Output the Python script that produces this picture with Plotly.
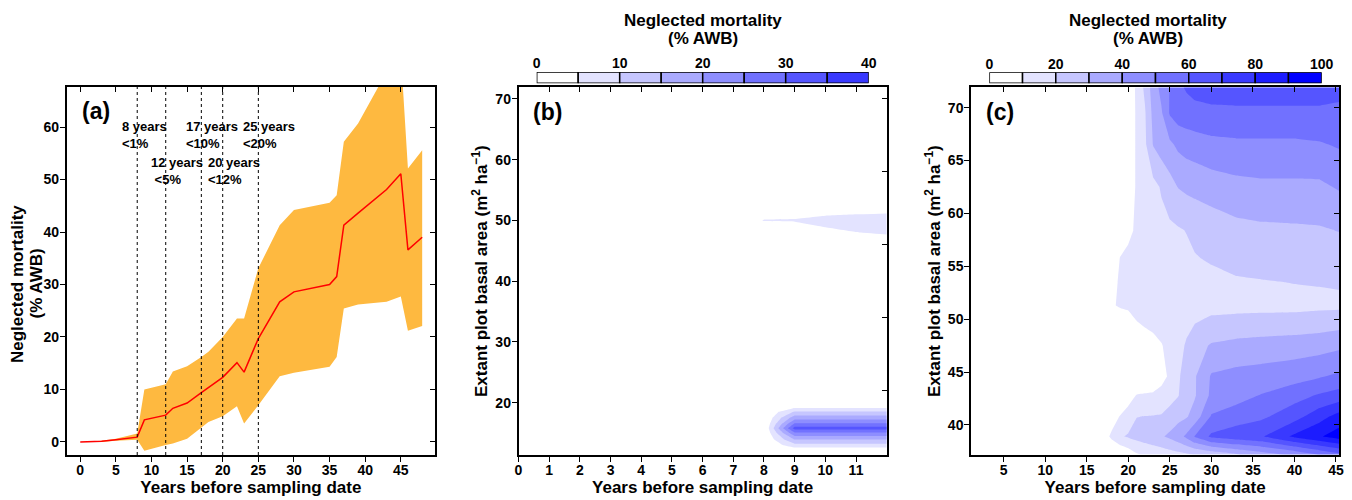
import plotly.graph_objects as go

# ---------------- Panel (a): neglected mortality vs years ----------------
years_a = [0, 3, 5, 8, 9, 12, 13, 15, 17, 18, 20, 22, 23, 25, 28, 30, 35, 36, 37, 39, 43, 45, 46, 48]
median_a = [0, 0.1, 0.4, 0.9, 4.2, 5.1, 6.4, 7.4, 9.4, 10.4, 12.3, 15.1, 13.3, 19.7, 26.7, 28.6,
            30.0, 31.5, 41.3, 43.6, 48.1, 51.1, 36.6, 39.0]
upper_a = [0, 0.2, 0.6, 1.6, 10.0, 11.0, 13.4, 14.4, 16.2, 17.2, 20.0, 23.5, 23.5, 33.1, 41.3, 44.2,
           45.6, 47.0, 57.2, 60.7, 70.5, 74.0, 52.1, 55.6]
lower_a = [0, 0, 0.2, 0.4, -1.7, -0.6, -0.3, 0.6, 2.7, 3.8, 4.9, 6.8, 3.5, 7.0, 12.5, 13.2,
           14.3, 16.2, 25.4, 26.2, 26.7, 27.7, 21.2, 22.1]
threshold_years = [8, 12, 17, 20, 25]
threshold_labels = ["8 years<br><1%", "12 years<br> <5%", "17 years<br><10%",
                    "20 years<br><12%", "25 years<br><20%"]

# ---------------- Panel (b): grid, years 0-12 ----------------
years_b = [0, 7, 8, 9, 10, 11, 12]
basal_b = [11.4, 12, 13, 14, 15, 15.8, 16.5, 17.5, 18.5, 19.5, 20.5, 46, 48, 50, 52, 71.9]
mort_b = [
    [0, 0, 0, 0, 0, 0, 0],
    [0, 0, 0, 0, 0, 0, 0],
    [0, 0, 0, 8, 8, 8, 8],
    [0, 0, 0, 15.5, 15.5, 15.5, 15.5],
    [0, 0, 0, 24, 24, 24, 24],
    [0, 0, 0, 32, 32, 32, 32],
    [0, 0, 0, 26, 26, 26, 26],
    [0, 0, 0, 18, 18, 18, 18],
    [0, 0, 0, 10.5, 10.5, 10.5, 10.5],
    [0, 0, 0, 2, 2, 2, 2],
    [0, 0, 0, 0, 0, 0, 0],
    [0, 0, 0, 0, 0, 0, 0],
    [0, 0, 0, 0, 3, 4.8, 6],
    [0, 0, 5.3, 5.6, 7.5, 8.5, 9.5],
    [0, 0, 0, 0, 1, 1.5, 1.7],
    [0, 0, 0, 0, 0, 0, 0],
]

# ---------------- Panel (c): grid, years 1-45 ----------------
years_c = [1, 17, 18, 19, 20, 21, 22, 23, 24, 25, 26, 27, 28, 30, 33, 36, 40, 43, 45.4]
basal_c = [37.2, 38.9, 40.8, 42.8, 44.6, 47.5, 49.9, 51.3, 53.5, 55.8, 58.4, 62.5, 66.5, 69.5, 71.9]
mort_c = [
    [0, 0, 0, 0, 4, 9, 11, 12.5, 14, 15.5, 17, 18.5, 20.2, 23, 29, 35, 42, 50.5, 57],
    [0, 5, 12, 19, 21, 23, 25, 27, 29, 32, 36, 42, 50.5, 62, 66, 69, 82, 89, 95],
    [0, 0, 5, 10.5, 15, 19.8, 20.2, 20.5, 21, 24, 27, 29, 34, 51, 55, 58, 66, 76, 84],
    [0, 0, 0, 0, 5, 10.5, 11, 11, 12, 16, 19.5, 25, 29, 42, 46, 50.5, 56, 61, 64],
    [0, 0, 0, 0, 0, 0, 2, 5, 8, 11, 18, 26, 29, 41, 43, 44, 46, 49, 52],
    [0, 0, 0, 0, 0, 3, 5, 7, 9.5, 13, 17, 21, 26, 31, 33, 34, 35, 36, 38],
    [0, 0, 0, 0, 5, 10.2, 12, 13, 14, 15, 16, 17.5, 19, 21.5, 22, 22.5, 23, 24, 25],
    [0, 0, 8, 12, 12.5, 13, 13.5, 14, 14.5, 15, 15.5, 16, 16.5, 17, 17.5, 17.5, 17.5, 18, 18],
    [0, 0, 5, 12, 12.5, 13, 13.5, 14, 14.5, 15, 15.5, 16, 16.5, 17.5, 19, 19.5, 20.2, 20.5, 21],
    [0, 0, 0, 10.3, 11.5, 12, 13, 14, 15, 16, 17, 18, 19.5, 21, 23, 24, 24.5, 25, 25.5],
    [0, 0, 0, 0, 8.5, 11, 13, 15, 17, 18, 19, 20.3, 22, 24, 27, 28, 28.5, 29, 30.3],
    [0, 0, 0, 0, 0, 12, 15, 17, 21, 26, 30.3, 32, 33, 35, 37, 38, 38, 38, 41],
    [0, 0, 0, 0, 0, 12, 18, 30.5, 35, 38, 42, 44, 45, 47, 48, 48, 48, 49, 51],
    [0, 0, 0, 0, 0, 12, 19, 33, 39, 51, 55, 56, 57, 58, 58, 58, 58, 58, 57],
    [0, 0, 0, 0, 0, 12.5, 22, 35, 43, 50.5, 58, 61, 63, 64, 65, 65, 65, 65, 64],
]

# ---------------- colour-bar bins ----------------
cbar_b_edges = [0, 5, 10, 15, 20, 25, 30, 35]
cbar_b_ticks = [0, 10, 20, 30, 40]
cbar_c_edges = [0, 10, 20, 30, 40, 50, 60, 70, 80, 90]
cbar_c_ticks = [0, 20, 40, 60, 80, 100]


def blue(k):
    v = round(255 * (1 - k / 9))
    return f"rgb({v},{v},255)"


FONT = "Liberation Sans, Arial, Helvetica, sans-serif"
TICKFONT = dict(family=FONT, size=14, color="black", weight="bold")
TITLEFONT = dict(family=FONT, size=17, color="black", weight="bold")
ORANGE = "rgb(254,185,64)"

W, H = 1352, 500


def dom_x(a, b):
    return [a / W, b / W]


def dom_y(top, bottom):
    return [1 - bottom / H, 1 - top / H]


fig = go.Figure()

# ---- panel (a)
fig.add_trace(go.Scatter(
    x=years_a + years_a[::-1], y=upper_a + lower_a[::-1],
    fill="toself", fillcolor=ORANGE, mode="lines", line=dict(width=0),
    hoverinfo="skip", showlegend=False, xaxis="x", yaxis="y"))
fig.add_trace(go.Scatter(
    x=years_a, y=median_a, mode="lines", line=dict(color="red", width=1.5),
    showlegend=False, xaxis="x", yaxis="y"))
for yr in threshold_years:
    fig.add_shape(type="line", x0=yr, x1=yr, y0=0, y1=1, xref="x", yref="y domain",
                  line=dict(color="black", width=1, dash="dot"))

# ---- panel (b)
fig.add_trace(go.Contour(
    x=years_b, y=basal_b, z=mort_b, xaxis="x2", yaxis="y2",
    autocontour=False,
    contours=dict(start=5, end=35, size=5, coloring="fill", showlines=False),
    colorscale=[[0, "rgb(255,255,255)"], [1, "rgb(57,57,255)"]],
    line=dict(width=0, smoothing=0), showscale=False, hoverinfo="skip"))

# ---- panel (c)
fig.add_trace(go.Contour(
    x=years_c, y=basal_c, z=mort_c, xaxis="x3", yaxis="y3",
    autocontour=False,
    contours=dict(start=10, end=90, size=10, coloring="fill", showlines=False),
    colorscale=[[0, "rgb(255,255,255)"], [1, "rgb(0,0,255)"]],
    line=dict(width=0, smoothing=0), showscale=False, hoverinfo="skip"))

# ---- colour bars (as horizontal stacked bars)
fig.add_trace(go.Bar(
    x=[5] * len(cbar_b_edges), y=[0] * len(cbar_b_edges), base=cbar_b_edges,
    orientation="h", width=1,
    marker=dict(color=[blue(k) for k in range(len(cbar_b_edges))],
                line=dict(color="black", width=1.5)),
    xaxis="x4", yaxis="y4", showlegend=False, hoverinfo="skip"))
fig.add_trace(go.Bar(
    x=[10] * len(cbar_c_edges), y=[0] * len(cbar_c_edges), base=cbar_c_edges,
    orientation="h", width=1,
    marker=dict(color=[blue(k) for k in range(len(cbar_c_edges))],
                line=dict(color="black", width=1.5)),
    xaxis="x5", yaxis="y5", showlegend=False, hoverinfo="skip"))

# dummy traces for inner mirrored ticks
for xa, ya in [("x6", "y6"), ("x7", "y7"), ("x8", "y8")]:
    fig.add_trace(go.Scatter(x=[None], y=[None], xaxis=xa, yaxis=ya,
                             showlegend=False, hoverinfo="skip"))

common = dict(showgrid=False, zeroline=False, showline=True, linecolor="black",
              linewidth=1.5, mirror=True, ticks="outside", ticklen=5, tickwidth=1.2,
              tickcolor="black", tickfont=TICKFONT, automargin=False)
xcommon = dict(common, ticklabelstandoff=-4)
ycommon = dict(common, ticklabelstandoff=-2)
inner = dict(showgrid=False, zeroline=False, showline=False, ticks="inside", ticklen=5,
             tickwidth=1.2, tickcolor="black", showticklabels=False, automargin=False)

xa_rng = [-1.9, 49.8]
ya_rng = [-2.5, 67.7]
xb_rng = [0, 12]
yb_rng = [11.4, 71.9]
xc_rng = [1.06, 45.4]
yc_rng = [37.16, 71.93]

ytitle_bc = "Extant plot basal area (m<sup>2</sup> ha<sup>\u22121</sup>)"
xtitle = "Years before sampling date"

fig.update_layout(
    width=W, height=H, margin=dict(l=0, r=0, t=0, b=0),
    paper_bgcolor="white", plot_bgcolor="white", showlegend=False, barmode="overlay",
    font=dict(family=FONT, color="black"),
    xaxis=dict(domain=dom_x(66.7, 435), range=xa_rng, anchor="y",
               tickvals=list(range(0, 50, 5)),
               title=dict(text=xtitle, font=TITLEFONT, standoff=3), **xcommon),
    yaxis=dict(domain=dom_y(86.7, 455), range=ya_rng, anchor="x",
               tickvals=list(range(0, 70, 10)), **ycommon),
    xaxis2=dict(domain=dom_x(518.5, 886.7), range=xb_rng, anchor="y2",
                tickvals=list(range(0, 12)),
                title=dict(text=xtitle, font=TITLEFONT, standoff=3), **xcommon),
    yaxis2=dict(domain=dom_y(87.3, 455), range=yb_rng, anchor="x2",
                tickvals=list(range(20, 80, 10)),
                title=dict(text=ytitle_bc, font=TITLEFONT, standoff=3), **ycommon),
    xaxis3=dict(domain=dom_x(971, 1339.3), range=xc_rng, anchor="y3",
                tickvals=list(range(5, 50, 5)),
                title=dict(text=xtitle, font=TITLEFONT, standoff=3), **xcommon),
    yaxis3=dict(domain=dom_y(87.3, 455), range=yc_rng, anchor="x3",
                tickvals=list(range(40, 75, 5)),
                title=dict(text=ytitle_bc, font=TITLEFONT, standoff=3), **ycommon),
    # colour bar axes
    xaxis4=dict(domain=dom_x(536.7, 868.7), range=[0, 40], anchor="y4", side="top",
                tickvals=cbar_b_ticks, ticks="", showgrid=False, zeroline=False,
                showline=False, tickfont=TICKFONT, automargin=False),
    yaxis4=dict(domain=dom_y(72, 83.3), range=[-0.5, 0.5], anchor="x4", visible=False),
    xaxis5=dict(domain=dom_x(989.3, 1321.7), range=[0, 100], anchor="y5", side="top",
                tickvals=cbar_c_ticks, ticks="", showgrid=False, zeroline=False,
                showline=False, tickfont=TICKFONT, automargin=False),
    yaxis5=dict(domain=dom_y(72.3, 83.3), range=[-0.5, 0.5], anchor="x5", visible=False),
    # inner mirrored ticks
    xaxis6=dict(overlaying="x", side="top", anchor="y6", range=xa_rng,
                tickvals=list(range(0, 50, 5)), **inner),
    yaxis6=dict(overlaying="y", side="right", anchor="x6", range=ya_rng,
                tickvals=list(range(0, 70, 10)), **inner),
    xaxis7=dict(overlaying="x2", side="top", anchor="y7", range=xb_rng,
                tickvals=list(range(1, 12)), **inner),
    yaxis7=dict(overlaying="y2", side="right", anchor="x7", range=yb_rng,
                tickvals=[22, 34, 46, 58, 70], **inner),
    xaxis8=dict(overlaying="x3", side="top", anchor="y8", range=xc_rng,
                tickvals=list(range(5, 50, 5)), **inner),
    yaxis8=dict(overlaying="y3", side="right", anchor="x8", range=yc_rng,
                tickvals=list(range(40, 75, 5)), **inner),
)

annotations = []
# y-axis title of panel (a), two lines
for txt, px in [("Neglected mortality", 17), ("(% AWB)", 35.5)]:
    annotations.append(dict(x=px / W, y=1 - 284 / H, xref="paper", yref="paper",
                            text=txt, textangle=-90, showarrow=False,
                            xanchor="center", yanchor="middle", font=TITLEFONT))
# threshold labels in panel (a)
for i, (yr, lab) in enumerate(zip(threshold_years, threshold_labels)):
    annotations.append(dict(
        x=yr - 2.4, y=58.5 if i % 2 == 0 else 51.6, xref="x", yref="y",
        text=lab, showarrow=False, xanchor="left", yanchor="middle", align="left",
        font=dict(family=FONT, size=13, color="black", weight="bold")))
# panel letters
for letter, xr, yr_ in [("(a)", "x domain", "y domain"),
                        ("(b)", "x2 domain", "y2 domain"),
                        ("(c)", "x3 domain", "y3 domain")]:
    annotations.append(dict(
        x=0.035, y=0.933, xref=xr, yref=yr_, text=letter, showarrow=False,
        xanchor="left", yanchor="middle",
        font=dict(family=FONT, size=23, color="black", weight="bold")))
# colour bar titles
for cx in [702.7, 1148]:
    annotations.append(dict(x=cx / W, y=1 - 20 / H, xref="paper", yref="paper",
                            text="Neglected mortality", showarrow=False,
                            xanchor="center", yanchor="middle", font=TITLEFONT))
    annotations.append(dict(x=cx / W, y=1 - 38.5 / H, xref="paper", yref="paper",
                            text="(% AWB)", showarrow=False,
                            xanchor="center", yanchor="middle", font=TITLEFONT))
fig.update_layout(annotations=annotations)

fig.write_html("out.html", config={"displayModeBar": False},
               post_script="document.body.style.margin='0px';document.body.style.padding='0px';"
                           "document.body.style.overflow='hidden';")
